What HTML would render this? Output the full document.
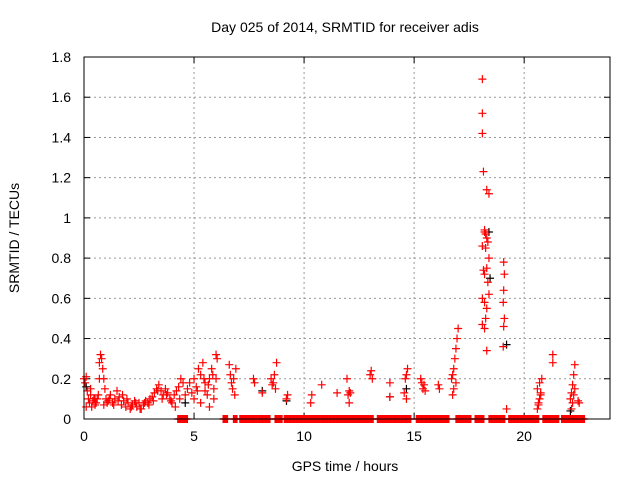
<!DOCTYPE html>
<html><head><meta charset="utf-8"><style>
html,body{margin:0;padding:0;background:#fff;}
svg{display:block;font-family:"Liberation Sans",sans-serif;}
</style></head><body>
<svg id="chart" width="640" height="480" viewBox="0 0 640 480">
<rect x="0" y="0" width="640" height="480" fill="#fff"/>
<text x="345" y="32" font-size="14" text-anchor="middle">Day 025 of 2014, SRMTID for receiver adis</text>
<text x="345" y="471" font-size="14" text-anchor="middle">GPS time / hours</text>
<text x="19" y="238" font-size="14" text-anchor="middle" transform="rotate(-90 19 238)">SRMTID / TECUs</text>
<g id="grid"></g><g id="ticks"></g><g id="marks"></g>
<rect x="84" y="57" width="526" height="362" fill="none" stroke="#000" stroke-width="1"/>
</svg>
<script>
const xTicks=[0,5,10,15,20];
const yTicks=[0,0.2,0.4,0.6,0.8,1,1.2,1.4,1.6,1.8];
const yTickLabels=["0","0.2","0.4","0.6","0.8","1","1.2","1.4","1.6","1.8"];
const redT=[0,0.05,0.1,0.15,0.2,0.25,0.3,0.35,0.4,0.45,0.5,0.55,0.6,0.65,0.7,0.75,0.8,0.85,0.9,0.95,1.0,1.05,1.1,1.2,1.3,1.4,1.5,1.6,1.7,1.8,1.9,2.0,2.1,2.2,2.3,2.4,2.5,2.6,2.7,2.8,2.9,3.0,3.1,3.2,3.3,3.4,3.5,3.6,3.7,3.8,3.9,4.0,4.1,4.2,4.3,4.4,4.5,
0.1,0.3,0.5,0.7,0.9,1.15,1.35,1.55,1.75,1.95,2.15,2.35,2.55,2.75,2.95,3.15,3.35,3.55,3.75,3.95,4.15,4.35,
4.6,4.7,4.8,4.9,5.0,5.1,5.2,5.3,5.4,5.5,5.6,5.7,5.8,5.9,6.0,6.05,5.0,5.3,5.5,5.7,5.9,6.0,5.15,5.45,5.65,5.85,
6.6,6.65,6.7,6.75,6.8,6.85,6.9,7.7,7.75,8.1,8.5,8.55,8.6,8.65,8.7,8.75,9.2,9.25,10.3,10.35,10.8,11.5,12.0,12.05,12.1,11.95,12.05,
13.0,13.05,13.1,13.9,13.9,14.6,14.65,14.7,14.55,14.65,15.3,15.35,15.4,15.45,15.5,16.1,16.15,
16.7,16.75,16.8,16.85,16.9,16.95,17.0,16.8,16.9,16.75,
18.1,18.1,18.1,18.15,18.3,18.2,18.2,18.3,18.35,18.1,18.25,18.4,18.3,18.15,18.2,18.35,18.4,18.1,18.2,18.3,18.25,18.1,18.2,18.25,18.3,18.4,
19.07,19.1,19.07,19.05,19.1,19.07,19.05,19.2,
20.6,20.65,20.7,20.75,20.6,20.7,20.65,20.8,20.75,21.3,21.3,22.1,22.15,22.2,22.25,22.3,22.2,22.15,22.25,22.3,22.45,22.5];
const redV=[0.2,0.18,0.21,0.14,0.1,0.08,0.12,0.06,0.09,0.1,0.07,0.08,0.1,0.12,0.28,0.32,0.3,0.25,0.2,0.15,0.1,0.08,0.09,0.12,0.08,0.1,0.14,0.11,0.07,0.09,0.06,0.08,0.05,0.07,0.09,0.06,0.08,0.05,0.07,0.09,0.08,0.1,0.11,0.13,0.15,0.17,0.14,0.12,0.15,0.13,0.1,0.08,0.12,0.14,0.16,0.2,0.18,
0.06,0.15,0.1,0.2,0.07,0.1,0.07,0.09,0.12,0.1,0.06,0.08,0.05,0.08,0.07,0.09,0.14,0.1,0.12,0.09,0.06,0.1,
0.12,0.15,0.18,0.13,0.2,0.16,0.25,0.22,0.28,0.18,0.12,0.2,0.25,0.15,0.32,0.3,0.1,0.08,0.14,0.06,0.1,0.2,0.14,0.2,0.17,0.22,
0.27,0.22,0.18,0.15,0.2,0.12,0.25,0.2,0.18,0.13,0.2,0.17,0.18,0.22,0.15,0.28,0.1,0.12,0.08,0.12,0.17,0.13,0.12,0.14,0.13,0.2,0.08,
0.22,0.24,0.2,0.18,0.11,0.2,0.22,0.25,0.13,0.1,0.2,0.18,0.15,0.17,0.14,0.17,0.15,
0.2,0.22,0.25,0.3,0.35,0.4,0.45,0.15,0.18,0.12,
1.69,1.52,1.42,1.23,1.14,0.93,0.94,0.9,0.88,0.86,0.85,0.8,0.75,0.74,0.72,0.68,0.62,0.6,0.58,0.55,0.5,0.47,0.45,0.92,0.34,1.12,
0.78,0.72,0.64,0.58,0.5,0.46,0.36,0.05,
0.05,0.08,0.1,0.12,0.15,0.18,0.07,0.2,0.13,0.32,0.28,0.1,0.13,0.17,0.22,0.27,0.08,0.05,0.12,0.15,0.09,0.08];
const blackT=[0.1,4.6,8.1,9.2,13.9,14.65,18.4,18.45,19.2,22.1];
const blackV=[0.16,0.08,0.14,0.09,0.11,0.15,0.93,0.7,0.37,0.04];
const zeroStart=[4.26,6.32,6.79,7.08,7.89,8.68,9.1,13.33,15.1,16.9,17.77,18.4,19.3,20.85,21.7];
const zeroEnd=[4.71,6.52,6.96,7.84,8.48,9.02,13.16,14.85,16.6,17.6,18.2,19.15,20.68,21.6,22.74];
const X0=84,X1=610,Y0=419,Y1=57,XMAX=23.9,YMAX=1.8;
function sx(t){return X0+(t/XMAX)*(X1-X0);}
function sy(v){return Y0-(v/YMAX)*(Y0-Y1);}
const NS="http://www.w3.org/2000/svg";
const grid=document.getElementById('grid'),ticks=document.getElementById('ticks'),marks=document.getElementById('marks');
function ln(p,x1,y1,x2,y2,st,dash){const l=document.createElementNS(NS,'line');l.setAttribute('x1',x1);l.setAttribute('y1',y1);l.setAttribute('x2',x2);l.setAttribute('y2',y2);l.setAttribute('stroke',st);if(dash)l.setAttribute('stroke-dasharray',dash);p.appendChild(l);return l;}
xTicks.forEach((t,i)=>{const x=sx(t);
 if(t>0){const g=ln(grid,x,Y1,x,Y0,'#999','2,3');
 
 }
 ln(ticks,x,Y0,x,Y0-6,'#000');ln(ticks,x,Y1,x,Y1+6,'#000');
 const tx=document.createElementNS(NS,'text');tx.setAttribute('x',x);tx.setAttribute('y',Y0+22);tx.setAttribute('font-size','14');tx.setAttribute('text-anchor','middle');tx.textContent=String(t);
 
 
 ticks.appendChild(tx);});
yTicks.forEach((v,i)=>{const y=sy(v);
 if(v>0){const g=ln(grid,X0,y,X1,y,'#999','2,3');
 
 }
 ln(ticks,X0,y,X0+6,y,'#000');ln(ticks,X1,y,X1-6,y,'#000');
 const tx=document.createElementNS(NS,'text');tx.setAttribute('x',71);tx.setAttribute('y',y+5);tx.setAttribute('font-size','14');tx.setAttribute('text-anchor','end');tx.textContent=yTickLabels[i];
 
 
 ticks.appendChild(tx);});
function plus(t,v,c,name){const x=sx(t),y=sy(v);const p=document.createElementNS(NS,'path');
 p.setAttribute('d','M'+(x-4)+' '+y+'H'+(x+4)+'M'+x+' '+(y-4)+'V'+(y+4));p.setAttribute('stroke',c);p.setAttribute('stroke-width','1.2');p.setAttribute('fill','none');
 
 
 marks.appendChild(p);}
blackT.forEach((t,i)=>plus(t,blackV[i],'#000','black-point'));
zeroStart.forEach((s,i)=>{for(let t=s;t<=zeroEnd[i]+1e-9;t+=0.04)plus(t,0,'#f00','zero-point');});
redT.forEach((t,i)=>plus(t,redV[i],'#f00','red-point'));
</script>
</body></html>
